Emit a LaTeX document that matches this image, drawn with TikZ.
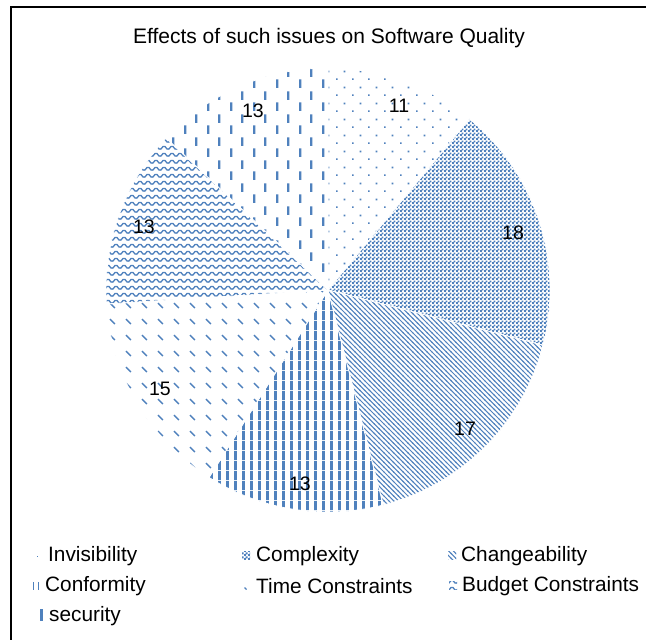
\documentclass[tikz,border=0pt]{standalone}
\usepackage{fontspec}
\setmainfont{Liberation Sans}
\usetikzlibrary{patterns}
\definecolor{pblue}{RGB}{79,129,189}

% Invisibility: sparse staggered dots
\pgfdeclarepatternformonly{pdots}{\pgfqpoint{0pt}{0pt}}{\pgfqpoint{16pt}{16pt}}{\pgfqpoint{16pt}{16pt}}{%
  \pgfpathrectangle{\pgfqpoint{0pt}{0pt}}{\pgfqpoint{1.8pt}{1.8pt}}%
  \pgfpathrectangle{\pgfqpoint{8pt}{8pt}}{\pgfqpoint{1.8pt}{1.8pt}}%
  \pgfusepath{fill}}
% Complexity: fine checkerboard
\pgfdeclarepatternformonly{pcheck}{\pgfqpoint{0pt}{0pt}}{\pgfqpoint{4pt}{4pt}}{\pgfqpoint{4pt}{4pt}}{%
  \pgfpathrectangle{\pgfqpoint{0pt}{0pt}}{\pgfqpoint{2.3pt}{2.3pt}}%
  \pgfpathrectangle{\pgfqpoint{2pt}{2pt}}{\pgfqpoint{2.3pt}{2.3pt}}%
  \pgfusepath{fill}}
% Changeability: dense diagonal lines
\pgfdeclarepatternformonly{pdiag}{\pgfqpoint{-1pt}{-1pt}}{\pgfqpoint{5.8pt}{5.8pt}}{\pgfqpoint{4.8pt}{4.8pt}}{%
  \pgfsetlinewidth{1.0pt}%
  \pgfpathmoveto{\pgfqpoint{-0.5pt}{5.3pt}}\pgfpathlineto{\pgfqpoint{5.3pt}{-0.5pt}}%
  \pgfusepath{stroke}}
% Conformity: vertical bars
\pgfdeclarepatternformonly{pvert}{\pgfqpoint{0pt}{0pt}}{\pgfqpoint{7.5pt}{10pt}}{\pgfqpoint{7.5pt}{10pt}}{%
  \pgfpathrectangle{\pgfqpoint{0pt}{0pt}}{\pgfqpoint{3pt}{10pt}}%
  \pgfusepath{fill}}
% Time constraints: short diagonal dashes
\pgfdeclarepatternformonly{ptime}{\pgfqpoint{0pt}{0pt}}{\pgfqpoint{15.5pt}{15.5pt}}{\pgfqpoint{15.5pt}{15.5pt}}{%
  \pgfsetlinewidth{1.4pt}%
  \pgfpathmoveto{\pgfqpoint{1pt}{6pt}}\pgfpathlineto{\pgfqpoint{6pt}{1pt}}%
  \pgfusepath{stroke}}
% Budget constraints: zigzag waves
\pgfdeclarepatternformonly{pzig}{\pgfqpoint{-1pt}{-1pt}}{\pgfqpoint{9pt}{8pt}}{\pgfqpoint{8pt}{7pt}}{%
  \pgfsetlinewidth{1.3pt}%
  \pgfpathmoveto{\pgfqpoint{-0.5pt}{1pt}}\pgfpathlineto{\pgfqpoint{1pt}{1pt}}%
  \pgfpathlineto{\pgfqpoint{3pt}{3.5pt}}\pgfpathlineto{\pgfqpoint{5pt}{3.5pt}}%
  \pgfpathlineto{\pgfqpoint{7pt}{1pt}}\pgfpathlineto{\pgfqpoint{8.5pt}{1pt}}%
  \pgfusepath{stroke}}
% Security: staggered vertical dashes
\pgfdeclarepatternformonly{psec}{\pgfqpoint{0pt}{0pt}}{\pgfqpoint{23pt}{23pt}}{\pgfqpoint{23pt}{23pt}}{%
  \pgfpathrectangle{\pgfqpoint{0pt}{0pt}}{\pgfqpoint{2.5pt}{9pt}}%
  \pgfpathrectangle{\pgfqpoint{11.5pt}{11.5pt}}{\pgfqpoint{2.5pt}{9pt}}%
  \pgfusepath{fill}}

\tikzset{
  lbl/.style={font=\fontsize{19.5}{22}\selectfont, inner sep=0pt},
  legtext/.style={font=\fontsize{20.8}{24}\selectfont, anchor=west, inner sep=0pt},
  ttl/.style={font=\fontsize{21}{24}\selectfont, inner sep=0pt},
  slice/.style={pattern color=pblue, draw=white, line width=0.8pt},
  frame/.style={draw=black, line width=2.8pt},
}

\begin{document}
\begin{tikzpicture}[x=1pt,y=1pt]
\useasboundingbox (0,0) rectangle (646,-640);
\fill[white] (0,0) rectangle (646,-640);
% frame
\draw[frame] (646,-7) -- (11,-7) -- (11,-640);

\node[ttl] (title) at (329,-38) {Effects of such issues on Software Quality};

\coordinate (c) at (328,-290);
\def\R{222}
\filldraw[slice, pattern=pdots]  (c) -- ++(90:\R)     arc[start angle=90,     end angle=50.4,   radius=\R] -- cycle;
\filldraw[slice, pattern=pcheck] (c) -- ++(50.4:\R)   arc[start angle=50.4,   end angle=-14.4,  radius=\R] -- cycle;
\filldraw[slice, pattern=pdiag]  (c) -- ++(-14.4:\R)  arc[start angle=-14.4,  end angle=-75.6,  radius=\R] -- cycle;
\filldraw[slice, pattern=pvert]  (c) -- ++(-75.6:\R)  arc[start angle=-75.6,  end angle=-122.4, radius=\R] -- cycle;
\filldraw[slice, pattern=ptime]  (c) -- ++(-122.4:\R) arc[start angle=-122.4, end angle=-176.4, radius=\R] -- cycle;
\filldraw[slice, pattern=pzig]   (c) -- ++(-176.4:\R) arc[start angle=-176.4, end angle=-223.2, radius=\R] -- cycle;
\filldraw[slice, pattern=psec]   (c) -- ++(136.8:\R)  arc[start angle=136.8,  end angle=90,     radius=\R] -- cycle;

% data labels
\node[lbl] (vInv)  at (399,-106) {11};
\node[lbl] (vCom)  at (513,-233) {18};
\node[lbl] (vCha)  at (465,-429) {17};
\node[lbl] (vCon)  at (300,-484) {13};
\node[lbl] (vTim)  at (160,-389) {15};
\node[lbl] (vBud)  at (144,-227) {13};
\node[lbl] (vSec)  at (253,-111) {13};

% legend markers
\fill[pblue] (36.5,-555.5) rectangle ++(1.6,-1.6);
\fill[pattern=pcheck, pattern color=pblue] (242,-551) rectangle ++(8,-8);
\fill[pattern=pdiag, pattern color=pblue] (448,-551) rectangle ++(8,-8);
\fill[pblue] (32.5,-582) rectangle ++(1.6,-8);
\fill[pblue] (37.5,-582) rectangle ++(1.6,-8);
\draw[pblue, line width=1.2pt] (244.5,-587.5) -- ++(2,-2);
\fill[pattern=pzig, pattern color=pblue] (449,-581) rectangle ++(8,-8);
\fill[pblue] (40,-609) rectangle ++(2.6,-12);

% legend texts
\node[legtext] (tInv) at (48,-556)  {Invisibility};
\node[legtext] (tCom) at (256,-556) {Complexity};
\node[legtext] (tCha) at (461,-556) {Changeability};
\node[legtext] (tCon) at (45,-586)  {Conformity};
\node[legtext] (tTim) at (256,-586) {Time Constraints};
\node[legtext] (tBud) at (462,-586) {Budget Constraints};
\node[legtext] (tSec) at (49,-616)  {security};
\end{tikzpicture}
\end{document}
